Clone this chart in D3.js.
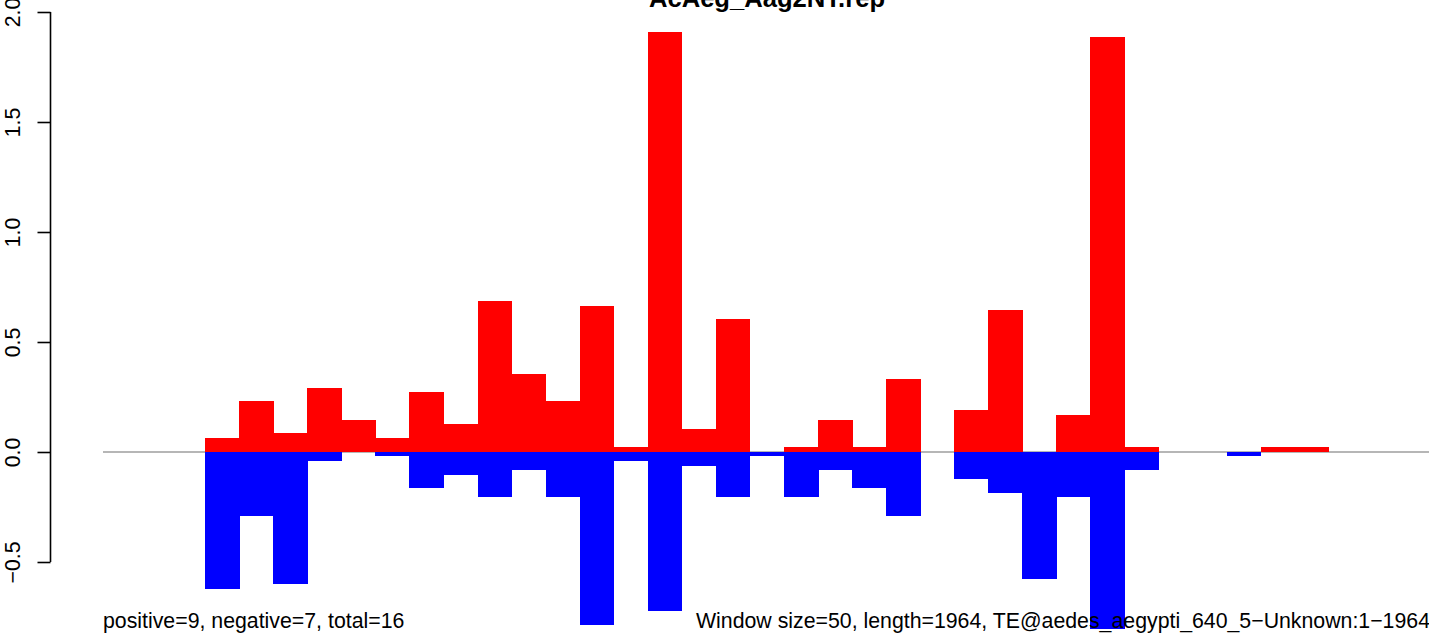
<!DOCTYPE html>
<html>
<head>
<meta charset="utf-8">
<script src="https://cdn.jsdelivr.net/npm/d3@7"></script>
<style>
  body { margin: 0; background: #fff; }
  svg text { font-family: "Liberation Sans", Arial, Helvetica, sans-serif; fill: #000; }
</style>
</head>
<body>
<div id="chart"></div>
<script>
// window index 0..38 (window size 50)
const windows = d3.range(39);

// positive strand coverage per window
const positive = [0, 0, 0, 0.064, 0.232, 0.086, 0.291, 0.145, 0.064, 0.273,
                  0.127, 0.686, 0.355, 0.232, 0.664, 0.024, 1.909, 0.105, 0.605, 0,
                  0.022, 0.145, 0.022, 0.332, 0, 0.191, 0.645, 0, 0.168, 1.886,
                  0.022, 0, 0, 0, 0.022, 0.022, 0, 0, 0];

// negative strand coverage per window
const negative = [0, 0, 0, -0.623, -0.291, -0.598, -0.039, 0, -0.017, -0.164,
                  -0.105, -0.205, -0.082, -0.205, -0.786, -0.039, -0.721, -0.064, -0.205, -0.018,
                  -0.205, -0.082, -0.164, -0.291, 0, -0.123, -0.186, -0.577, -0.205, -0.806,
                  -0.082, 0, 0, -0.018, 0, 0, 0, 0, 0];

const yTicks = [-0.5, 0, 0.5, 1.0, 1.5, 2.0];

const title = "AcAeg_Aag2NT.rep";
const leftNote = "positive=9, negative=7, total=16";
const rightNote = "Window size=50, length=1964, TE@aedes_aegypti_640_5\u2212Unknown:1\u22121964";

const width = 1429, height = 634;
const plot = {left: 103, right: 1431, top: 12, bottom: 562};

const svg = d3.select("#chart")
  .append("svg")
  .attr("width", width)
  .attr("height", height);

svg.append("rect").attr("width", width).attr("height", height).attr("fill", "#fff");

const x = d3.scaleLinear()
  .domain([0, windows.length])
  .range([plot.left, plot.right]);

const y = d3.scaleLinear()
  .domain([-0.5, 2.0])
  .range([plot.bottom, plot.top]);

// zero line (under the bars)
svg.append("line")
  .attr("x1", plot.left).attr("x2", width)
  .attr("y1", y(0)).attr("y2", y(0))
  .attr("stroke", "#6e6e6e")
  .attr("stroke-width", 1.2);

const bw = x(1) - x(0);

svg.selectAll(".pos")
  .data(windows.filter(i => positive[i] > 0))
  .enter()
  .append("rect")
  .attr("class", "pos")
  .attr("x", i => x(i))
  .attr("width", bw + 0.5)
  .attr("y", i => y(positive[i]))
  .attr("height", i => y(0) - y(positive[i]))
  .attr("fill", "#ff0000")
  .attr("shape-rendering", "crispEdges");

svg.selectAll(".neg")
  .data(windows.filter(i => negative[i] < 0))
  .enter()
  .append("rect")
  .attr("class", "neg")
  .attr("x", i => x(i))
  .attr("width", bw + 0.5)
  .attr("y", y(0))
  .attr("height", i => y(negative[i]) - y(0))
  .attr("fill", "#0000ff")
  .attr("shape-rendering", "crispEdges");

// y axis, R style: rotated labels
const axis = svg.append("g")
  .attr("transform", "translate(50.5,0)")
  .call(d3.axisLeft(y).tickValues(yTicks).tickSize(13).tickPadding(0)
    .tickFormat(d => d3.format(".1f")(d).replace("-", "\u2212")));

axis.select(".domain").attr("stroke", "#000").attr("stroke-width", 1.6)
  .attr("d", `M0,${y(-0.5)}V${y(2.0)}`);
axis.selectAll(".tick line").attr("stroke", "#000").attr("stroke-width", 1.6);
axis.selectAll(".tick text")
  .attr("x", null).attr("dy", null)
  .attr("transform", "translate(-30.5,0) rotate(-90)")
  .attr("text-anchor", "middle")
  .style("font-size", "21.3px")
  .style("fill", "#000");

svg.append("text")
  .attr("x", (plot.left + plot.right) / 2)
  .attr("y", 6.5)
  .attr("text-anchor", "middle")
  .style("font-size", "25.6px")
  .style("font-weight", "bold")
  .text(title);

svg.append("text")
  .attr("x", plot.left)
  .attr("y", 628)
  .style("font-size", "21.3px")
  .text(leftNote);

svg.append("text")
  .attr("x", 1430)
  .attr("y", 628)
  .attr("text-anchor", "end")
  .style("font-size", "21.3px")
  .text(rightNote);
</script>
</body>
</html>
